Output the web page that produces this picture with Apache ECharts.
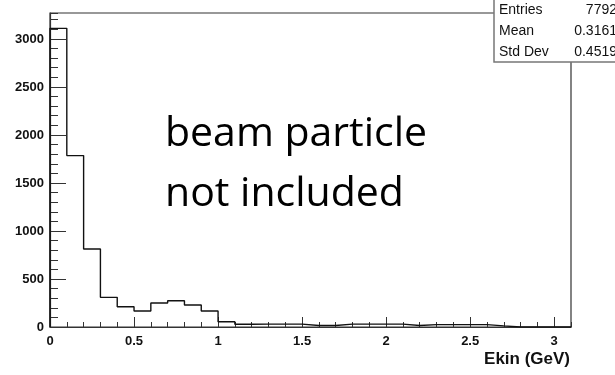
<!DOCTYPE html>
<html>
<head>
<meta charset="utf-8">
<script src="https://cdn.jsdelivr.net/npm/echarts@6/dist/echarts.min.js"></script>
<style>
  html, body { margin: 0; padding: 0; background: #fff; }
  #chart { width: 615px; height: 375px; }
</style>
</head>
<body>
<div id="chart"></div>
<script>
// Kinetic energy histogram, 0.1 GeV bins from 0 to 3.1 GeV
const binWidth = 0.1;
const xMin = 0;
const xMax = 3.1;
const yMax = 3270;
const counts = [
  3110, 1785, 812, 309, 211, 167, 250, 274, 229, 167,
  55, 28, 30, 30, 30, 15, 15, 30, 30, 30,
  30, 15, 25, 25, 25, 25, 12, 0, 0, 0, 0
];
const statNames = ['Entries', 'Mean', 'Std Dev'];
const statValues = ['7792', '0.3161', '0.4519'];
const noteLines = ['beam particle', 'not included'];
const xTitle = 'Ekin (GeV)';

// Histogram outline: each bin contributes its two top corners
const outline = [[xMin, 0]];
counts.forEach((c, i) => {
  const lo = +(xMin + i * binWidth).toFixed(2);
  const hi = +(xMin + (i + 1) * binWidth).toFixed(2);
  outline.push([lo, c], [hi, c]);
});
outline.push([xMax, 0]);

const axisColor = '#333';
const labelFont = { fontFamily: 'Liberation Sans, Arial, sans-serif', fontWeight: 'bold', fontSize: 13, color: '#111' };

const isMultiple = (v, step) => Math.abs(v / step - Math.round(v / step)) < 1e-6;

const chart = echarts.init(document.getElementById('chart'), null, { renderer: 'canvas' });

const statGraphics = [];
statNames.forEach((name, i) => {
  statGraphics.push({
    type: 'text', x: 499, y: 10 + i * 21, z: 20,
    style: { text: name, font: '14px "Liberation Sans", Arial, sans-serif', fill: '#111', textAlign: 'left', textVerticalAlign: 'middle' }
  });
  statGraphics.push({
    type: 'text', x: 617, y: 10 + i * 21, z: 20,
    style: { text: statValues[i], font: '14px "Liberation Sans", Arial, sans-serif', fill: '#111', textAlign: 'right', textVerticalAlign: 'middle' }
  });
});

chart.setOption({
  animation: false,
  backgroundColor: '#fff',
  grid: {
    left: 50, right: 44, top: 13, bottom: 48,
    show: true, borderColor: axisColor, borderWidth: 1.2, backgroundColor: 'transparent'
  },
  xAxis: [
    {
      type: 'value', min: xMin, max: xMax, interval: 0.5, position: 'bottom',
      axisLine: { show: true, onZero: false, lineStyle: { color: axisColor, width: 1.2 } },
      axisTick: { show: true, inside: true, length: 10, lineStyle: { color: axisColor } },
      axisLabel: Object.assign({
        margin: 8,
        showMaxLabel: false,
        formatter: v => (isMultiple(v, 0.5) ? String(v) : '')
      }, labelFont),
      splitLine: { show: false }
    },
    {
      type: 'value', min: xMin, max: xMax, interval: binWidth, position: 'bottom',
      axisLine: { show: false },
      axisTick: { show: true, inside: true, length: 5, lineStyle: { color: axisColor } },
      axisLabel: { show: false },
      splitLine: { show: false }
    }
  ],
  yAxis: [
    {
      type: 'value', min: 0, max: yMax, interval: 500, position: 'left',
      axisLine: { show: true, onZero: false, lineStyle: { color: axisColor, width: 1.2 } },
      axisTick: { show: true, inside: true, length: 16, lineStyle: { color: axisColor } },
      axisLabel: Object.assign({
        margin: 6,
        showMaxLabel: false,
        formatter: v => (isMultiple(v, 500) ? String(v) : '')
      }, labelFont),
      splitLine: { show: false }
    },
    {
      type: 'value', min: 0, max: yMax, interval: 100, position: 'left',
      axisLine: { show: false },
      axisTick: { show: true, inside: true, length: 8, lineStyle: { color: axisColor } },
      axisLabel: { show: false },
      splitLine: { show: false }
    }
  ],
  series: [{
    type: 'line',
    xAxisIndex: 0, yAxisIndex: 0,
    data: outline,
    showSymbol: false,
    symbol: 'none',
    lineStyle: { color: '#111', width: 1.4 },
    z: 5
  }],
  graphic: [
    {
      type: 'rect', z: 15,
      shape: { x: 494, y: -2, width: 140, height: 64 },
      style: { fill: '#fff', stroke: '#777', lineWidth: 1.5 }
    },
    ...statGraphics,
    {
      type: 'text', x: 570, y: 359, z: 20,
      style: { text: xTitle, font: 'bold 17px "Liberation Sans", Arial, sans-serif', fill: '#111', textAlign: 'right', textVerticalAlign: 'middle' }
    },
    {
      type: 'text', x: 165, y: 134, z: 20,
      style: { text: noteLines[0], font: '41px "Open Sans", sans-serif', fill: '#000', textAlign: 'left', textVerticalAlign: 'middle' }
    },
    {
      type: 'text', x: 165, y: 194, z: 20,
      style: { text: noteLines[1], font: '41px "Open Sans", sans-serif', fill: '#000', textAlign: 'left', textVerticalAlign: 'middle' }
    }
  ]
});
</script>
</body>
</html>
